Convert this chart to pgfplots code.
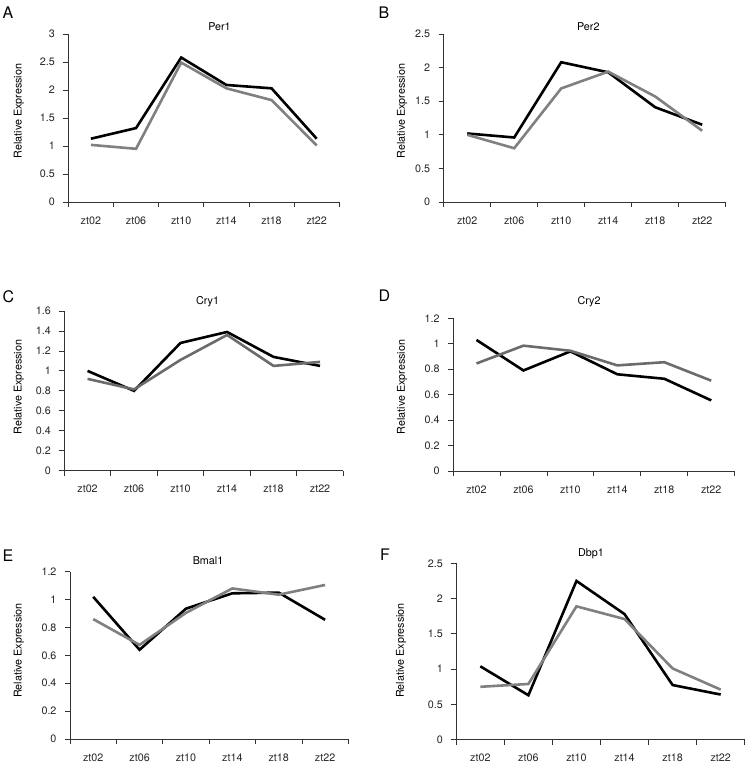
\documentclass[border=0pt]{standalone}
\usepackage{fontspec}
\setmainfont{TeX Gyre Heros}
\usepackage{pgfplots}
\pgfplotsset{compat=1.18}
\definecolor{lgray}{gray}{0.50}
\definecolor{dgray}{gray}{0.42}
\definecolor{axcol}{gray}{0.2}
\pgfplotsset{
  panel/.style={
    scale only axis,
    anchor=south west,
    axis lines*=left,
    xmin=-0.5, xmax=5.5, ymin=0,
    xtick={0,...,5},
    xticklabels={zt02,zt06,zt10,zt14,zt18,zt22},
    minor xtick={-0.5,0.5,...,5.5},
    major x tick style={draw=none},
    minor x tick style={draw=axcol, line width=0.8bp},
    y tick style={draw=axcol, line width=0.8bp},
    tick align=outside,
    major tick length=5bp,
    minor tick length=5bp,
    axis line style={draw=axcol, line width=0.8bp},
    tick label style={font=\fontsize{10.8}{13}\selectfont, text=black!85},
    xticklabel style={yshift=-6bp},
    yticklabel style={xshift=-5bp},
    /pgf/number format/assume math mode=true,
    clip=false,
  },
  blk/.style={black, line width=2.6bp, mark=none},
  gry/.style={lgray, line width=2.6bp, mark=none},
}
\newcommand{\ylab}[2]{\node[rotate=90, font=\fontsize{10.8}{13}\selectfont] at (#1bp,-#2bp) {Relative Expression};}
\newcommand{\ttl}[3]{\node[font=\fontsize{10.8}{13}\selectfont] at (#1bp,-#2bp) {#3};}
\newcommand{\plab}[3]{\node[font=\fontsize{16}{19}\selectfont, anchor=north west, inner sep=0pt] at (#1bp,-#2bp) {#3};}
\begin{document}
\begin{tikzpicture}
\path[use as bounding box] (0,0) rectangle (746bp,-766bp);

% A: Per1
\begin{axis}[panel, at={(68.3bp,-202bp)}, width=271bp, height=168bp,
  ymax=3, ytick={0,0.5,1,1.5,2,2.5,3}]
\addplot[blk] coordinates {(0,1.13) (1,1.32) (2,2.58) (3,2.09) (4,2.03) (5,1.13)};
\addplot[gry] coordinates {(0,1.02) (1,0.95) (2,2.49) (3,2.03) (4,1.82) (5,1.01)};
\end{axis}

% B: Per2
\begin{axis}[panel, at={(443.7bp,-202bp)}, width=282bp, height=168bp,
  ymax=2.5, ytick={0,0.5,1,1.5,2,2.5}]
\addplot[blk] coordinates {(0,1.02) (1,0.96) (2,2.08) (3,1.93) (4,1.41) (5,1.15)};
\addplot[gry] coordinates {(0,1.00) (1,0.80) (2,1.69) (3,1.94) (4,1.57) (5,1.06)};
\end{axis}

% C: Cry1
\begin{axis}[panel, at={(64.3bp,-470.7bp)}, width=279bp, height=159.7bp,
  ymax=1.6, ytick={0,0.2,0.4,0.6,0.8,1,1.2,1.4,1.6}]
\addplot[blk] coordinates {(0,1.00) (1,0.80) (2,1.28) (3,1.39) (4,1.14) (5,1.05)};
\addplot[gry, dgray] coordinates {(0,0.92) (1,0.815) (2,1.11) (3,1.36) (4,1.05) (5,1.09)};
\end{axis}

% D: Cry2
\begin{axis}[panel, at={(453bp,-471bp)}, width=281.7bp, height=152.7bp,
  ymax=1.2, ytick={0,0.2,0.4,0.6,0.8,1,1.2}]
\addplot[blk] coordinates {(0,1.03) (1,0.79) (2,0.94) (3,0.76) (4,0.725) (5,0.555)};
\addplot[gry, dgray] coordinates {(0,0.845) (1,0.985) (2,0.945) (3,0.83) (4,0.855) (5,0.71)};
\end{axis}

% E: Bmal1
\begin{axis}[panel, at={(70bp,-739bp)}, width=278.3bp, height=167.3bp,
  ymax=1.2, ytick={0,0.2,0.4,0.6,0.8,1,1.2}]
\addplot[blk] coordinates {(0,1.02) (1,0.64) (2,0.935) (3,1.045) (4,1.05) (5,0.855)};
\addplot[gry] coordinates {(0,0.86) (1,0.675) (2,0.905) (3,1.08) (4,1.035) (5,1.105)};
\end{axis}

% F: Dbp1
\begin{axis}[panel, at={(456.3bp,-739.7bp)}, width=288.4bp, height=176.4bp,
  ymax=2.5, ytick={0,0.5,1,1.5,2,2.5}]
\addplot[blk] coordinates {(0,1.04) (1,0.63) (2,2.25) (3,1.78) (4,0.775) (5,0.64)};
\addplot[gry] coordinates {(0,0.75) (1,0.79) (2,1.89) (3,1.71) (4,1.01) (5,0.71)};
\end{axis}

% titles
\ttl{219.5}{26.5}{Per1}
\ttl{588.3}{26.5}{Per2}
\ttl{207.5}{301.5}{Cry1}
\ttl{589}{302}{Cry2}
\ttl{208}{560.5}{Bmal1}
\ttl{591}{553.5}{Dbp1}

% y labels
\ylab{19}{111}
\ylab{402}{111}
\ylab{19}{387}
\ylab{402}{387}
\ylab{19}{650.5}
\ylab{401}{650.5}

% panel letters
\plab{2.5}{6.5}{A}
\plab{378.5}{6.5}{B}
\plab{2.5}{290}{C}
\plab{378.5}{290}{D}
\plab{2.5}{550}{E}
\plab{380}{549}{F}
\end{tikzpicture}
\end{document}
